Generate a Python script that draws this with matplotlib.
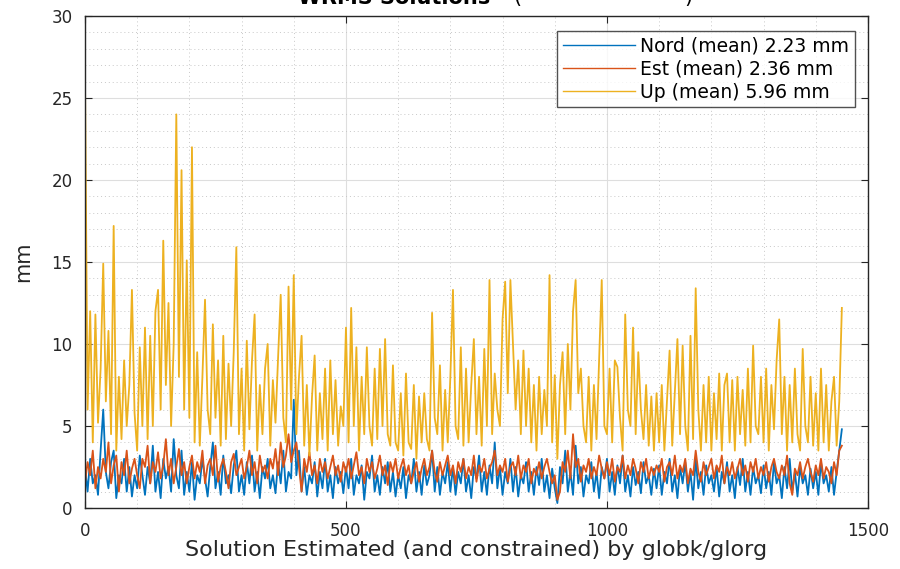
import numpy as np
import matplotlib
matplotlib.use('Agg')
import matplotlib.pyplot as plt
from matplotlib.ticker import MultipleLocator

plt.rcParams['font.family'] = ['DejaVu Sans']

# one value every 5 solutions (0 .. 1450)
step = 5

up = [
    26.5, 6.0, 12.0, 4.0, 11.8, 5.2, 8.5, 14.9, 6.5, 10.8, 4.5, 17.2, 3.5, 8.0, 4.2, 9.0, 5.0, 7.5, 13.3, 5.8,
    3.5, 9.8, 5.0, 11.0, 4.2, 10.5, 5.0, 12.0, 13.3, 6.0, 16.3, 7.5, 12.5, 5.0, 10.0, 24.0, 8.0, 20.6, 6.0, 15.1,
    5.5, 22.0, 4.0, 9.5, 3.8, 8.0, 12.7, 6.0, 4.5, 11.2, 5.5, 9.0, 3.8, 10.5, 4.2, 8.8, 5.0, 9.5, 15.9, 4.5,
    8.5, 3.5, 10.2, 4.8, 9.0, 11.8, 3.5, 7.5, 4.5, 8.5, 10.0, 3.8, 7.8, 5.2, 9.2, 13.0, 5.5, 4.0, 13.5, 6.0,
    14.2, 4.5, 8.0, 10.5, 3.8, 7.5, 3.2, 6.8, 9.3, 3.5, 7.0, 4.2, 8.5, 3.5, 9.0, 4.5, 7.8, 3.8, 6.2, 5.0,
    11.0, 4.0, 12.2, 5.0, 9.8, 3.5, 8.0, 4.5, 9.8, 5.0, 3.8, 8.5, 4.2, 9.7, 5.0, 10.3, 4.5, 3.8, 8.7, 4.0,
    3.5, 7.0, 3.2, 8.2, 4.0, 3.6, 7.5, 3.0, 6.8, 4.0, 7.0, 4.2, 3.5, 11.9, 5.5, 4.5, 8.7, 3.5, 7.2, 4.0,
    8.0, 13.3, 5.0, 4.2, 9.8, 3.8, 8.5, 4.0, 7.5, 10.3, 4.5, 8.0, 3.8, 9.7, 5.0, 13.9, 4.5, 8.2, 6.0, 5.0,
    11.5, 13.8, 7.0, 13.9, 10.0, 6.0, 9.0, 4.5, 9.6, 5.0, 8.5, 4.0, 7.5, 3.5, 8.0, 4.5, 7.2, 5.0, 14.2, 4.0,
    8.1, 3.0, 7.5, 9.5, 4.5, 10.0, 6.0, 12.0, 13.9, 7.0, 8.5, 5.0, 4.0, 8.0, 3.5, 7.5, 4.2, 9.0, 13.9, 5.0,
    4.5, 8.5, 4.0, 9.0, 8.6, 5.5, 3.5, 11.8, 6.0, 5.0, 11.0, 4.5, 9.5, 6.0, 4.2, 7.5, 3.8, 6.8, 3.5, 7.0,
    4.0, 7.5, 3.5, 6.5, 9.6, 3.8, 7.0, 10.3, 4.5, 9.9, 5.0, 3.5, 10.5, 4.2, 13.4, 6.0, 3.5, 7.5, 4.0, 8.0,
    3.5, 7.0, 4.2, 8.2, 3.5, 7.5, 8.2, 4.0, 7.8, 3.5, 8.0, 4.5, 7.2, 3.8, 8.5, 4.0, 9.9, 5.0, 4.5, 8.0,
    4.0, 8.5, 3.5, 7.5, 4.8, 9.0, 11.5, 4.5, 8.0, 3.5, 7.5, 4.0, 8.5, 4.5, 3.5, 9.7, 5.0, 4.0, 8.0, 3.8,
    7.0, 3.5, 8.5, 4.0, 7.5, 3.5, 6.5, 8.0, 3.8, 6.5, 12.2,
]

nord = [
    2.5, 1.0, 3.0, 1.5, 2.0, 0.8, 3.5, 6.0, 2.2, 1.2, 2.8, 3.5, 0.6, 2.0, 1.5, 3.0, 1.0, 2.5, 0.7, 2.0,
    1.2, 3.2, 2.0, 0.8, 2.5, 1.5, 3.8, 1.0, 2.2, 0.6, 3.0, 1.8, 2.5, 1.0, 4.2, 2.0, 1.2, 3.5, 0.8, 2.2,
    1.0, 2.8, 0.5, 2.0, 1.5, 3.0, 1.8, 0.7, 2.5, 4.0, 1.2, 2.2, 0.8, 3.2, 1.5, 2.0, 0.9, 2.6, 3.5, 1.0,
    2.0, 0.8, 2.8, 1.5, 3.2, 1.0, 2.2, 0.6, 2.5, 1.8, 3.0, 1.2, 2.0, 0.9, 2.8, 1.5, 3.5, 1.0, 2.2, 1.8,
    6.6, 2.0, 3.5, 1.0, 2.5, 0.8, 2.0, 1.5, 2.8, 0.7, 2.2, 1.2, 3.0, 1.0, 2.0, 0.6, 2.5, 1.5, 2.2, 0.9,
    2.5, 1.2, 3.0, 0.8, 2.0, 1.5, 2.6, 0.5, 2.2, 1.8, 3.2, 1.0, 2.0, 0.8, 2.5, 1.5, 2.8, 1.0, 2.2, 0.7,
    2.0, 1.2, 2.5, 0.6, 2.0, 1.5, 3.0, 1.0, 2.2, 0.8, 2.6, 1.4, 2.0, 3.5, 1.0, 2.5, 0.8, 2.2, 1.5, 2.8,
    1.0, 2.5, 0.8, 2.2, 1.5, 3.0, 1.0, 2.0, 0.6, 2.5, 1.8, 3.2, 1.0, 2.2, 0.8, 2.6, 1.5, 4.0, 1.2, 2.5,
    0.8, 2.2, 1.5, 3.0, 1.0, 2.5, 0.7, 2.0, 1.5, 2.8, 1.0, 2.2, 0.8, 2.5, 1.4, 3.0, 1.0, 2.0, 0.6, 2.4,
    1.2, 0.3, 2.5, 1.5, 3.5, 1.0, 2.2, 0.8, 3.8, 1.5, 2.5, 0.7, 2.0, 1.5, 2.8, 1.0, 2.2, 0.6, 2.5, 1.8,
    3.0, 1.0, 2.2, 0.8, 2.6, 1.5, 3.2, 1.0, 2.0, 0.7, 2.5, 1.4, 2.2, 0.9, 2.8, 1.5, 2.0, 0.8, 2.4, 1.2,
    2.6, 0.8, 2.2, 1.5, 3.0, 1.0, 2.0, 0.6, 2.5, 1.5, 2.8, 1.0, 2.2, 0.5, 3.0, 1.2, 2.2, 0.8, 2.6, 1.5,
    2.0, 1.0, 2.5, 0.7, 2.2, 1.5, 2.8, 1.0, 2.0, 0.6, 2.5, 1.4, 3.0, 1.0, 2.2, 0.8, 2.5, 1.5, 2.0, 0.9,
    2.6, 1.2, 2.2, 0.8, 2.8, 1.5, 2.0, 0.6, 2.5, 1.2, 3.0, 1.0, 2.2, 0.7, 2.5, 1.5, 2.0, 0.8, 2.4, 1.2,
    2.2, 0.8, 2.8, 1.5, 2.0, 1.0, 2.5, 0.8, 2.2, 3.5, 4.8,
]

est = [
    1.5, 2.8, 2.0, 3.5, 1.2, 2.5, 1.8, 3.0, 2.2, 4.0, 1.5, 2.6, 3.2, 1.0, 2.8, 2.0, 3.5, 1.5, 2.4, 3.0,
    2.0, 1.2, 3.0, 2.5, 3.8, 1.5, 2.8, 2.2, 3.4, 1.8, 2.6, 4.2, 2.0, 3.0, 1.5, 2.5, 3.6, 2.0, 2.8, 1.5,
    2.5, 3.2, 1.8, 2.8, 2.2, 3.5, 1.5, 2.6, 3.0, 2.0, 3.8, 1.6, 2.5, 3.0, 2.2, 1.2, 2.8, 3.3, 2.0, 2.5,
    3.0, 1.8, 2.5, 3.5, 2.0, 2.8, 1.5, 3.2, 2.2, 2.6, 1.8, 3.0, 2.4, 3.6, 2.0, 4.0, 2.5, 3.2, 4.5, 2.8,
    3.5, 4.0, 2.5, 1.0, 3.0, 2.2, 3.4, 2.0, 2.6, 1.5, 3.0, 2.2, 2.8, 1.8, 2.5, 3.2, 2.0, 2.6, 1.6, 2.8,
    2.2, 3.0, 1.8, 2.6, 3.4, 2.0, 2.5, 1.5, 3.0, 2.2, 2.8, 1.8, 2.4, 3.2, 2.0, 2.6, 1.4, 2.8, 2.2, 3.0,
    1.8, 2.5, 3.0, 2.0, 2.6, 1.5, 2.2, 2.8, 1.6, 2.4, 3.0, 2.0, 2.5, 3.5, 2.2, 1.6, 2.8, 2.0, 2.6, 3.2,
    2.0, 2.6, 1.5, 2.8, 2.2, 3.0, 1.8, 2.5, 2.0, 3.2, 1.6, 2.6, 2.2, 3.0, 1.8, 2.4, 2.8, 3.5, 2.0, 2.6,
    2.2, 3.0, 1.6, 2.5, 2.8, 2.0, 3.2, 1.8, 2.6, 2.2, 3.0, 1.5, 2.4, 2.0, 2.8, 1.8, 2.5, 3.0, 2.2, 1.5,
    2.0, 0.5, 1.0, 2.8, 2.2, 3.5, 1.8, 4.5, 2.5, 3.0, 1.6, 2.6, 2.2, 3.0, 1.8, 2.5, 2.0, 3.2, 2.4, 1.8,
    2.8, 2.0, 3.0, 1.6, 2.5, 2.2, 3.2, 1.8, 2.6, 2.0, 3.0, 2.4, 1.5, 2.8, 2.2, 3.0, 1.8, 2.5, 2.0, 2.6,
    2.2, 3.0, 1.6, 2.5, 2.8, 2.0, 3.2, 1.8, 2.6, 2.2, 3.0, 1.5, 2.4, 2.0, 3.5, 2.2, 1.6, 2.8, 2.0, 2.5,
    3.0, 1.8, 2.6, 2.2, 3.2, 1.5, 2.5, 2.0, 2.8, 1.8, 2.4, 3.0, 2.0, 2.6, 1.6, 2.8, 2.2, 3.0, 1.8, 2.5,
    2.0, 2.8, 1.6, 2.5, 3.0, 2.2, 1.8, 2.6, 2.0, 3.2, 1.5, 0.8, 2.4, 2.0, 2.8, 1.8, 2.5, 3.0, 2.2, 1.6,
    2.6, 2.0, 3.0, 1.8, 2.5, 2.2, 1.5, 2.8, 2.0, 3.5, 3.8,
]

labels = ['Nord (mean) 2.23 mm', 'Est (mean) 2.36 mm', 'Up (mean) 5.96 mm']
colors = ['#0072BD', '#D95319', '#EDB120']

x = np.arange(len(up)) * step

fig = plt.figure(figsize=(9, 5.69), dpi=100)
ax = fig.add_axes([0.0944, 0.1072, 0.870, 0.8647])

for y, lab, c in zip([nord, est, up], labels, colors):
    ax.plot(x, y, color=c, lw=1.3, label=lab)

ax.set_xlim(0, 1500)
ax.set_ylim(0, 30)
ax.xaxis.set_major_locator(MultipleLocator(500))
ax.xaxis.set_minor_locator(MultipleLocator(100))
ax.yaxis.set_major_locator(MultipleLocator(5))
ax.yaxis.set_minor_locator(MultipleLocator(1))
ax.grid(which='major', color='#dedede', lw=0.8, ls='-')
ax.grid(which='minor', color='#c8c8c8', lw=0.7, ls=(0, (1, 3)))
ax.set_axisbelow(True)
ax.tick_params(which='major', direction='in', length=5, top=True, right=True,
               labelsize=12, colors='#262626')
ax.tick_params(axis='y', pad=9)
ax.tick_params(axis='x', pad=10)
ax.tick_params(which='minor', length=0)
for s in ax.spines.values():
    s.set_color('#262626')
    s.set_linewidth(1.0)

ax.set_xlabel('Solution Estimated (and constrained) by globk/glorg', fontsize=16,
              color='#262626', labelpad=0)
ax.set_ylabel('mm', fontsize=15, color='#262626')
ax.yaxis.set_label_coords(-0.066, 0.5)

leg = ax.legend(loc='upper right', bbox_to_anchor=(0.983, 0.9695), fontsize=13.5,
                handlelength=3.85, frameon=True, fancybox=False, borderaxespad=0,
                labelspacing=0.22, handletextpad=0.27, borderpad=0.3)
leg.get_frame().set_edgecolor('#262626')
leg.get_frame().set_linewidth(1.0)
for h in leg.get_lines():
    h.set_linewidth(1.0)

# title, mostly cut off by the top edge of the image
ty = 1 - 3.5 / 569
fig.text(490 / 900, ty, 'WRMS Solutions', ha='right', va='baseline',
         fontsize=15, fontweight='bold')
fig.text(513 / 900, ty, '(', ha='left', va='baseline', fontsize=15)
fig.text(692 / 900, ty, ')', ha='right', va='baseline', fontsize=15)

fig.savefig('out.png', dpi=100)
